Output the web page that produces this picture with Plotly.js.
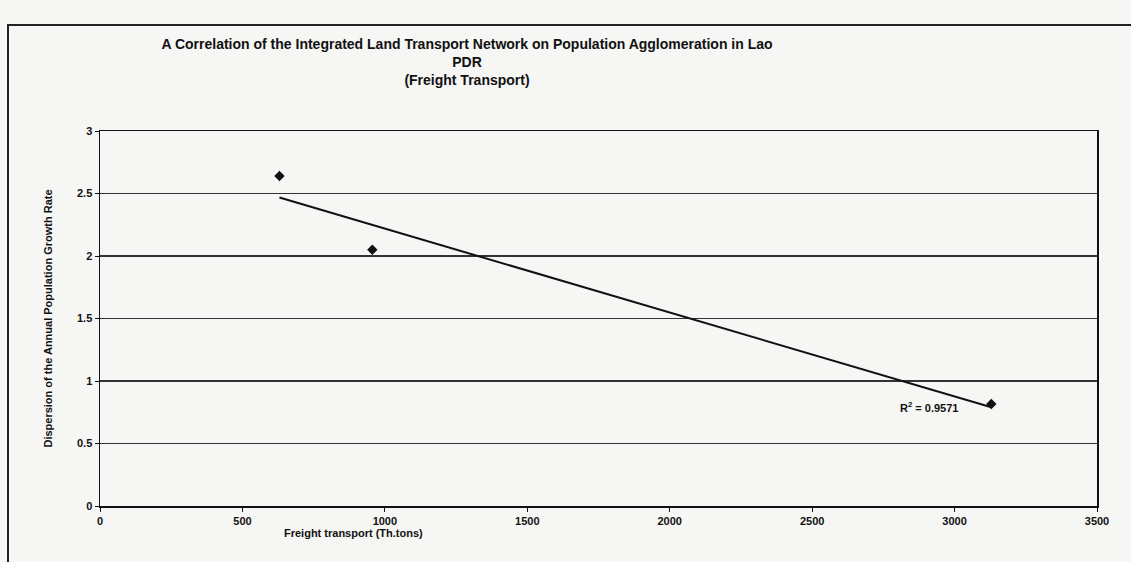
<!DOCTYPE html>
<html>
<head>
<meta charset="utf-8">
<script src="https://cdn.plot.ly/plotly-3.0.1.min.js"></script>
<style>
  html, body { margin: 0; padding: 0; background: #f6f6f4; }
  #wrap { position: relative; width: 1131px; height: 562px; overflow: hidden; }
  #chart { position: absolute; left: 0; top: 0; width: 1131px; height: 562px; }
  #frame { position: absolute; left: 7px; top: 24px; width: 1140px; height: 600px;
           border-left: 2px solid #222; border-top: 2px solid #222; pointer-events: none; }
</style>
</head>
<body>
<div id="wrap">
  <div id="chart"></div>
  <div id="frame"></div>
</div>
<script>
// Data
const freightThTons = [630, 956, 3129];
const popGrowthDispersion = [2.64, 2.05, 0.816];
const xTickVals = [0, 500, 1000, 1500, 2000, 2500, 3000, 3500];
const yTickVals = [0, 0.5, 1, 1.5, 2, 2.5, 3];
const yTickText = ['0', '0.5', '1', '1.5', '2', '2.5', '3'];
const rSquaredLabel = 'R<sup>2</sup> = 0.9571';

// Linear least-squares trendline from the data
const n = freightThTons.length;
const mx = freightThTons.reduce((a, b) => a + b, 0) / n;
const my = popGrowthDispersion.reduce((a, b) => a + b, 0) / n;
let sxy = 0, sxx = 0;
for (let i = 0; i < n; i++) {
  sxy += (freightThTons[i] - mx) * (popGrowthDispersion[i] - my);
  sxx += (freightThTons[i] - mx) ** 2;
}
const slope = sxy / sxx;
const intercept = my - slope * mx;
const xMin = Math.min(...freightThTons), xMax = Math.max(...freightThTons);
const trendX = [xMin, xMax];
const trendY = trendX.map(x => intercept + slope * x);

const bold = 'Liberation Sans, Arial, sans-serif';

const traces = [
  {
    x: trendX, y: trendY, mode: 'lines', type: 'scatter',
    line: { color: '#111', width: 2 }, hoverinfo: 'skip', showlegend: false
  },
  {
    x: freightThTons, y: popGrowthDispersion, mode: 'markers', type: 'scatter',
    marker: { symbol: 'diamond', size: 8, color: '#111' }, showlegend: false
  }
];

const layout = {
  width: 1131, height: 562,
  paper_bgcolor: 'rgba(0,0,0,0)',
  plot_bgcolor: 'rgba(0,0,0,0)',
  margin: { l: 100, r: 34, t: 131, b: 56 },
  showlegend: false,
  title: {
    text: '<b>A Correlation of the Integrated Land Transport Network on Population Agglomeration in Lao<br>PDR<br>(Freight Transport)</b>',
    font: { family: bold, size: 14, color: '#111' },
    xref: 'container', yref: 'container',
    x: 467 / 1131, xanchor: 'center',
    y: 1 - 49 / 562, yanchor: 'top'
  },
  xaxis: {
    range: [0, 3500],
    tickvals: xTickVals,
    ticktext: xTickVals.map(String),
    tickfont: { family: bold, size: 11, color: '#111', weight: 'bold' },
    showline: true, linecolor: '#111', linewidth: 1.5, mirror: true,
    ticks: 'outside', ticklen: 4, tickcolor: '#111',
    showgrid: false, zeroline: false,
    fixedrange: true
  },
  yaxis: {
    range: [0, 3],
    tickvals: yTickVals,
    ticktext: yTickText,
    tickfont: { family: bold, size: 11, color: '#111', weight: 'bold' },
    showline: true, linecolor: '#111', linewidth: 1.5, mirror: true,
    ticks: 'outside', ticklen: 4, tickcolor: '#111',
    showgrid: true, gridcolor: '#333', gridwidth: 1.2,
    zeroline: false,
    title: {
      text: '<b>Dispersion of the Annual Population Growth Rate</b>',
      font: { family: 'Liberation Sans Narrow, Arial Narrow, Liberation Sans, sans-serif', size: 11, color: '#111' },
      standoff: 22
    },
    fixedrange: true
  },
  annotations: [
    {
      text: '<b>Freight transport (Th.tons)</b>',
      xref: 'paper', yref: 'paper',
      x: (353 - 100) / (1131 - 134), y: -0.072,
      xanchor: 'center', yanchor: 'middle', showarrow: false,
      font: { family: bold, size: 11, color: '#111' }
    },
    {
      text: '<b>' + rSquaredLabel + '</b>',
      xref: 'x', yref: 'y',
      x: 2910, y: 0.79,
      xanchor: 'center', yanchor: 'middle', showarrow: false,
      font: { family: bold, size: 11, color: '#111' }
    }
  ]
};

Plotly.newPlot('chart', traces, layout, { displayModeBar: false, staticPlot: true });
</script>
</body>
</html>
